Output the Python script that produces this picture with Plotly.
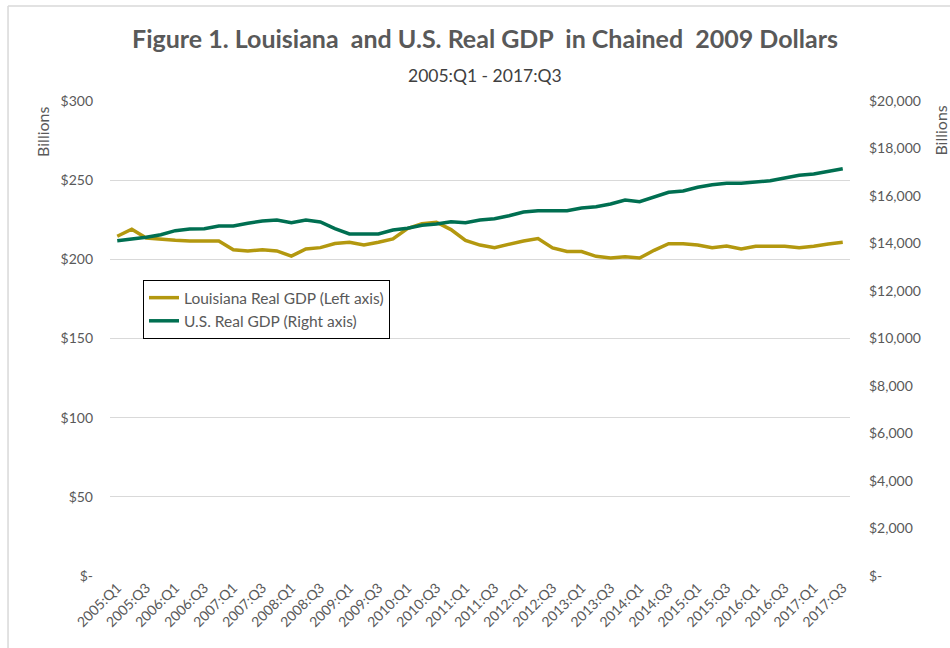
import plotly.graph_objects as go

quarters = [f"{y}:Q{q}" for y in range(2005, 2018) for q in range(1, 5)][:51]

louisiana_gdp = [214.6, 219.0, 213.5, 212.5, 212.0, 211.6, 211.6, 211.6, 206.0, 205.3,
                 206.0, 205.3, 202.0, 206.5, 207.4, 210.0, 210.8, 209.0, 210.8, 212.9,
                 219.4, 222.5, 223.4, 218.8, 212.0, 209.0, 207.4, 209.5, 211.6, 213.1,
                 207.2, 204.9, 204.9, 201.9, 200.8, 201.7, 200.8, 205.7, 209.9, 209.9,
                 209.1, 207.4, 208.4, 206.5, 208.2, 208.2, 208.2, 207.4, 208.2, 209.7,
                 210.8]

us_gdp = [14118, 14175, 14260, 14372, 14540, 14610, 14625, 14737, 14737, 14850,
          14947, 14990, 14877, 14990, 14905, 14625, 14400, 14400, 14400, 14568,
          14640, 14765, 14820, 14920, 14877, 14990, 15045, 15172, 15326, 15382,
          15382, 15382, 15495, 15550, 15663, 15832, 15760, 15944, 16154, 16210,
          16365, 16477, 16533, 16533, 16590, 16645, 16758, 16870, 16926, 17038,
          17150]

left_ticks = [0, 50, 100, 150, 200, 250, 300]
left_labels = ["$-", "$50", "$100", "$150", "$200", "$250", "$300"]
right_ticks = [0, 2000, 4000, 6000, 8000, 10000, 12000, 14000, 16000, 18000, 20000]
right_labels = ["$-", "$2,000", "$4,000", "$6,000", "$8,000", "$10,000", "$12,000",
                "$14,000", "$16,000", "$18,000", "$20,000"]

FONT = "Lato"
GREY = "#595959"
GOLD = "#B3980F"
GREEN = "#006F51"

fig = go.Figure()
fig.add_trace(go.Scatter(x=quarters, y=louisiana_gdp, mode="lines",
                         name="Louisiana Real GDP (Left axis)",
                         line=dict(color=GOLD, width=3.5)))
fig.add_trace(go.Scatter(x=quarters, y=us_gdp, mode="lines", yaxis="y2",
                         name="U.S. Real GDP (Right axis)",
                         line=dict(color=GREEN, width=3.5)))

fig.update_layout(
    width=950, height=648,
    margin=dict(l=110, r=100, t=101, b=72),
    paper_bgcolor="white", plot_bgcolor="white",
    font=dict(family=FONT, color=GREY, size=13),
    showlegend=True,
    legend=dict(x=0.0446, y=0.623, xanchor="left", yanchor="top",
                bgcolor="white", bordercolor="black", borderwidth=1,
                font=dict(family=FONT, size=15.5, color=GREY),
                tracegroupgap=4, itemwidth=30),
    xaxis=dict(type="category", range=[-0.5, 50.5],
               tickmode="array", tickvals=quarters[::2], ticktext=quarters[::2],
               tickangle=-45, showgrid=False, zeroline=False, showline=False,
               ticks="", tickfont=dict(size=14, color=GREY)),
    yaxis=dict(range=[0, 300], tickvals=left_ticks, ticktext=left_labels,
               showgrid=True, gridcolor="#D9D9D9", gridwidth=1, zeroline=False,
               showline=False, ticks="", ticklabelstandoff=16,
               tickfont=dict(size=14, color=GREY)),
    yaxis2=dict(range=[0, 20000], tickvals=right_ticks, ticktext=right_labels,
                overlaying="y", side="right", showgrid=False, zeroline=False,
                showline=False, ticks="", ticklabelstandoff=18,
                tickfont=dict(size=14, color=GREY)),
    annotations=[
        dict(text="<b>Figure 1. Louisiana  and U.S. Real GDP  in Chained  2009 Dollars</b>",
             xref="paper", yref="paper", x=0.5068, y=1.1326, xanchor="center",
             yanchor="middle", showarrow=False,
             font=dict(family=FONT, size=25, color=GREY)),
        dict(text="2005:Q1 - 2017:Q3", xref="paper", yref="paper", x=0.5068, y=1.0547,
             xanchor="center", yanchor="middle", showarrow=False,
             font=dict(family=FONT, size=17.5, color="#404040")),
        dict(text="Billions", xref="paper", yref="paper", x=-0.0905, y=0.935,
             xanchor="center", yanchor="middle", textangle=-90, showarrow=False,
             font=dict(family=FONT, size=16, color=GREY)),
        dict(text="Billions", xref="paper", yref="paper", x=1.1225, y=0.937,
             xanchor="center", yanchor="middle", textangle=-90, showarrow=False,
             font=dict(family=FONT, size=16, color=GREY)),
    ],
    shapes=[
        dict(type="line", xref="paper", yref="paper", x0=-0.1378, x1=1.3, y0=1.2, y1=1.2,
             line=dict(color="#D9D9D9", width=1.5)),
        dict(type="line", xref="paper", yref="paper", x0=-0.1378, x1=-0.1378, y0=1.2, y1=-0.3,
             line=dict(color="#D9D9D9", width=1.5)),
    ],
)

fig.write_html("out.html", config={"displayModeBar": False},
               post_script="document.body.style.margin='0';")
